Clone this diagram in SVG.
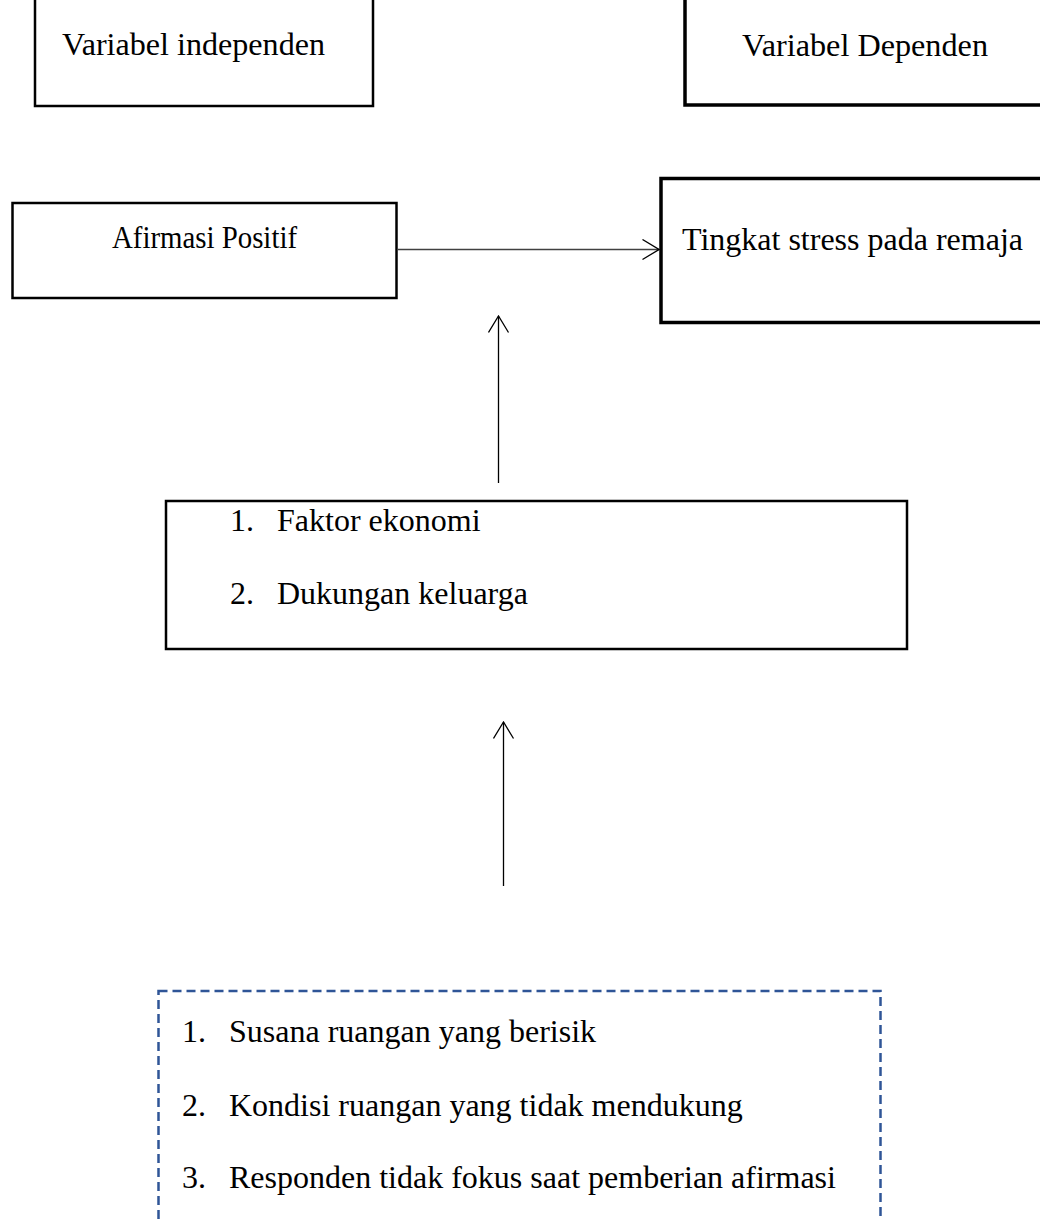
<svg xmlns="http://www.w3.org/2000/svg" width="1040" height="1221" viewBox="0 0 1040 1221">
<style>
  text { font-family: "Liberation Serif", "Times New Roman", serif; font-size: 32px; fill: #000; }
  .box { fill: #fff; stroke: #000; stroke-width: 2.5; }
  .thick { stroke-width: 3.5; }
  .dash { fill: #fff; stroke: #2F5597; stroke-width: 2.5; stroke-dasharray: 9 5; }
  .conn { fill: none; stroke: #000; stroke-width: 1.3; }
  .grey { stroke: #404040; stroke-width: 1.6; }
</style>
<defs>
  <marker id="open" viewBox="0 0 18 22" markerWidth="18" markerHeight="22" refX="17" refY="11" orient="auto" markerUnits="userSpaceOnUse">
    <path d="M0.5,1 L17,11 L0.5,21" fill="none" stroke="#000" stroke-width="1.3"/>
  </marker>
</defs>
<rect width="1040" height="1221" fill="#fff"/>

<g id="node-variabel-independen">
  <rect class="box" x="35" y="-5" width="338" height="111"/>
  <text x="62" y="55" textLength="263" lengthAdjust="spacingAndGlyphs">Variabel independen</text>
</g>

<g id="node-variabel-dependen">
  <rect class="box thick" x="685" y="-5" width="370" height="110"/>
  <text x="742" y="56" textLength="246" lengthAdjust="spacingAndGlyphs">Variabel Dependen</text>
</g>

<g id="node-afirmasi-positif">
  <rect class="box" x="12.5" y="203" width="384" height="95"/>
  <text x="112" y="248" font-size="29" textLength="185" lengthAdjust="spacingAndGlyphs">Afirmasi Positif</text>
</g>

<g id="node-tingkat-stress">
  <rect class="box thick" x="661" y="178.5" width="390" height="144"/>
  <text x="682" y="250" textLength="341" lengthAdjust="spacingAndGlyphs">Tingkat stress pada remaja</text>
</g>

<g id="node-faktor">
  <rect class="box" x="166" y="501" width="741" height="148"/>
  <text x="230" y="531">1.</text>
  <text x="277" y="531">Faktor ekonomi</text>
  <text x="230" y="604">2.</text>
  <text x="277" y="604">Dukungan keluarga</text>
</g>

<g id="node-pengganggu">
  <rect class="dash" x="158.5" y="991" width="722" height="260"/>
  <text x="182" y="1042">1.</text>
  <text x="229" y="1042">Susana ruangan yang berisik</text>
  <text x="182" y="1116">2.</text>
  <text x="229" y="1116">Kondisi ruangan yang tidak mendukung</text>
  <text x="182" y="1188">3.</text>
  <text x="229" y="1188">Responden tidak fokus saat pemberian afirmasi</text>
</g>

<g id="connectors">
  <line class="conn grey" x1="397" y1="249.5" x2="659" y2="249.5" marker-end="url(#open)"/>
  <line class="conn" x1="498.5" y1="483" x2="498.5" y2="316" marker-end="url(#open)"/>
  <line class="conn" x1="503.5" y1="886" x2="503.5" y2="722" marker-end="url(#open)"/>
</g>
</svg>
